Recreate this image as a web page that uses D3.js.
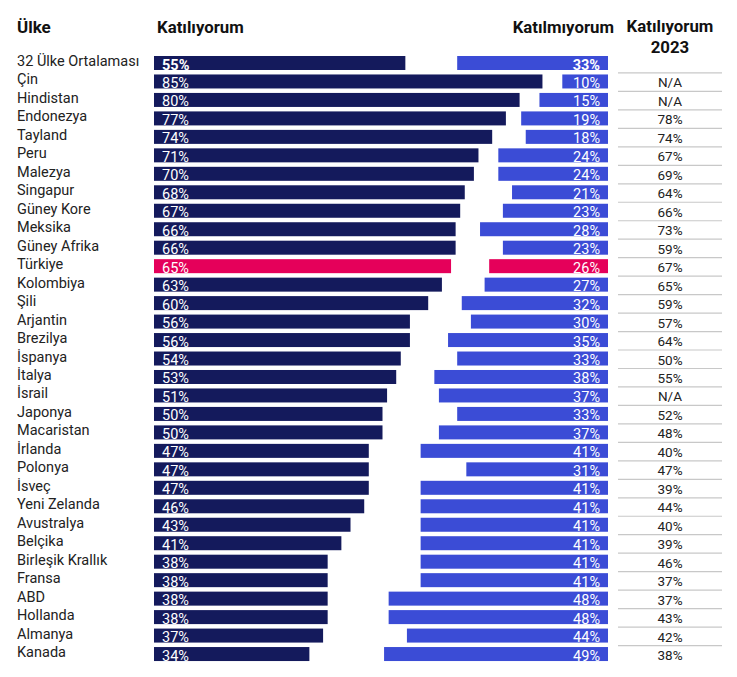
<!DOCTYPE html>
<html>
<head>
<meta charset="utf-8">
<script src="https://cdn.jsdelivr.net/npm/d3@7"></script>
<style>
  body { margin: 0; background: #fff; }
  text { font-family: Roboto, "Noto Sans", sans-serif; }
</style>
</head>
<body>
<div id="container"></div>
<script>
const countries = ["32 Ülke Ortalaması", "Çin", "Hindistan", "Endonezya", "Tayland", "Peru", "Malezya",
  "Singapur", "Güney Kore", "Meksika", "Güney Afrika", "Türkiye", "Kolombiya", "Şili", "Arjantin",
  "Brezilya", "İspanya", "İtalya", "İsrail", "Japonya", "Macaristan", "İrlanda", "Polonya", "İsveç",
  "Yeni Zelanda", "Avustralya", "Belçika", "Birleşik Krallık", "Fransa", "ABD", "Hollanda", "Almanya", "Kanada"];
const agree = [55, 85, 80, 77, 74, 71, 70, 68, 67, 66, 66, 65, 63, 60, 56, 56, 54, 53, 51, 50, 50,
  47, 47, 47, 46, 43, 41, 38, 38, 38, 38, 37, 34];
const disagree = [33, 10, 15, 19, 18, 24, 24, 21, 23, 28, 23, 26, 27, 32, 30, 35, 33, 38, 37, 33, 37,
  41, 31, 41, 41, 41, 41, 41, 41, 48, 48, 44, 49];
const agree2023 = ["", "N/A", "N/A", "78%", "74%", "67%", "69%", "64%", "66%", "73%", "59%", "67%", "65%",
  "59%", "57%", "64%", "50%", "55%", "N/A", "52%", "48%", "40%", "47%", "39%", "44%", "40%", "39%",
  "46%", "37%", "37%", "43%", "42%", "38%"];
const highlight = "Türkiye";

const w = 737;
const h = 677;
const leftX = 154;
const rightX = 608;
const barH = 14;

const dataset = countries.map((c, i) => ({
  name: c, agree: agree[i], disagree: disagree[i], y2023: agree2023[i], i: i
}));

const svg = d3
  .select("#container")
  .append("svg")
  .attr("width", w)
  .attr("height", h)
  .attr("viewBox", `0 0 ${w} ${h}`);

const yScale = d3
  .scaleBand()
  .domain(countries)
  .range([54, 54 + countries.length * 18.47])
  .padding(0);

const xScale = d3.scaleLinear().domain([0, 100]).range([0, 457]);

const navy = "#141a5c";
const blue = "#3b4cd6";
const pink = "#e5005a";

// headers
svg.append("text").attr("x", 17).attr("y", 33)
  .attr("font-size", 17).attr("font-weight", "bold").attr("fill", "#111").text("Ülke");
svg.append("text").attr("x", 157).attr("y", 33)
  .attr("font-size", 16.8).attr("font-weight", "bold").attr("fill", "#111").text("Katılıyorum");
svg.append("text").attr("x", 614).attr("y", 33).attr("text-anchor", "end")
  .attr("font-size", 16.8).attr("font-weight", "bold").attr("fill", "#111").text("Katılmıyorum");
svg.append("text").attr("x", 670).attr("y", 32).attr("text-anchor", "middle")
  .attr("font-size", 16.8).attr("font-weight", "bold").attr("fill", "#111").text("Katılıyorum");
svg.append("text").attr("x", 670).attr("y", 53).attr("text-anchor", "middle")
  .attr("font-size", 16.8).attr("font-weight", "bold").attr("fill", "#111").text("2023");

const rows = svg
  .selectAll("g.row")
  .data(dataset)
  .enter()
  .append("g")
  .attr("class", "row")
  .attr("transform", (d) => `translate(0, ${yScale(d.name)})`);

// grid lines in 2023 column
rows
  .filter((d) => d.i > 0)
  .append("line")
  .attr("x1", 618)
  .attr("x2", 722)
  .attr("y1", 0.5)
  .attr("y2", 0.5)
  .attr("stroke", "#c8c8c8")
  .attr("stroke-width", 1.2);

rows
  .append("text")
  .attr("x", 17)
  .attr("y", 12)
  .attr("font-size", 14.5)
  .attr("fill", "#222")
  .text((d) => d.name);

rows
  .append("rect")
  .attr("x", leftX)
  .attr("y", 2)
  .attr("width", (d) => xScale(d.agree))
  .attr("height", barH)
  .attr("fill", (d) => (d.name === highlight ? pink : navy));

rows
  .append("rect")
  .attr("x", (d) => rightX - xScale(d.disagree))
  .attr("y", 2)
  .attr("width", (d) => xScale(d.disagree))
  .attr("height", barH)
  .attr("fill", (d) => (d.name === highlight ? pink : blue));

rows
  .append("text")
  .attr("x", leftX + 8)
  .attr("y", 15.5)
  .attr("font-size", 14.5)
  .attr("font-weight", (d) => (d.i === 0 ? "bold" : "normal"))
  .attr("fill", "#fff")
  .text((d) => d.agree + "%");

rows
  .append("text")
  .attr("x", rightX - 8)
  .attr("y", 15.5)
  .attr("text-anchor", "end")
  .attr("font-size", 14.5)
  .attr("font-weight", (d) => (d.i === 0 ? "bold" : "normal"))
  .attr("fill", "#fff")
  .text((d) => d.disagree + "%");

rows
  .append("text")
  .attr("x", 670)
  .attr("y", 15)
  .attr("text-anchor", "middle")
  .attr("font-size", 13.5)
  .attr("fill", "#222")
  .text((d) => d.y2023);
</script>
</body>
</html>
